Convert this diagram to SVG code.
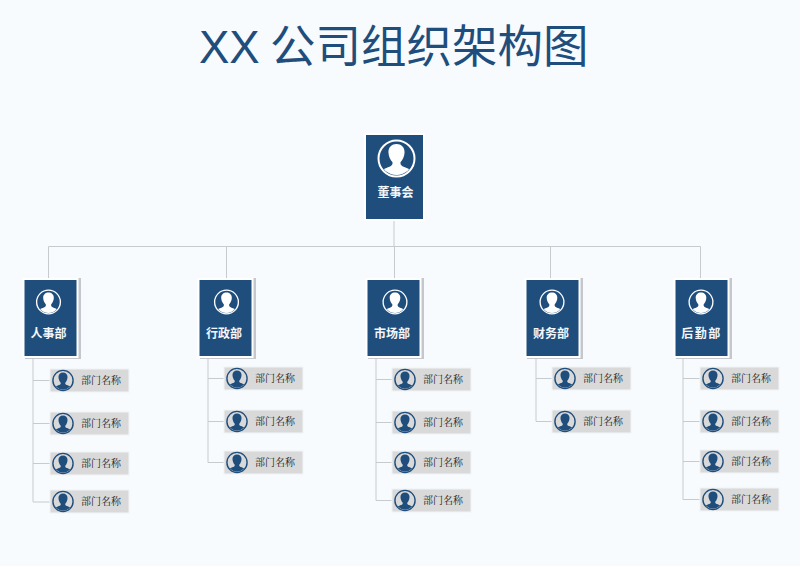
<svg xmlns="http://www.w3.org/2000/svg" width="800" height="566" viewBox="0 0 800 566">
<style>
.title{font-family:"Liberation Sans","Noto Sans CJK SC",sans-serif;font-size:45.500px;fill:#1f4e7d}
.lead{font-family:"Noto Sans CJK SC",sans-serif;font-size:12px;font-weight:700;fill:#f4f7fa;text-anchor:middle}
.sub{font-family:"Noto Serif CJK SC","Noto Sans CJK SC",serif;font-size:10px;fill:#222}
.card{fill:#1f4e7d;stroke:#fff;stroke-width:2}
.shade{fill:#c4c8cc}
.row{fill:#d9d9d9;stroke:#f2f4f6;stroke-width:1}
.conn{fill:none;stroke:#c8cbce;stroke-width:1}
</style>
<defs>
<path id="person" d="M-16 18V15C-15.500 10.500-11 10-7 8.200C-4.500 7-3.800 5.800-4 3.800C-6.300 1.500-7.800-2-8-5.500C-8.500-11-5-14.500 0-14.500C5-14.500 8.500-11 8-5.500C7.800-2 6.300 1.500 4 3.800C3.800 5.800 4.500 7 7 8.200C11 10 15.500 10.500 16 15V18Z"/>
<clipPath id="clip"><circle r="16.500"/></clipPath>
<g id="av-light"><circle r="18" fill="#1f4e7d" stroke="#fff" stroke-width="2"/><g clip-path="url(#clip)" fill="#fff"><use href="#person"/></g></g>
<g id="av-dark"><circle r="18" fill="#d9d9d9" stroke="#1f4e7d" stroke-width="2.500"/><g clip-path="url(#clip)" fill="#1f4e7d"><use href="#person"/></g></g>
<g id="rowitem"><rect class="row" x="0" y="0" width="79" height="23"/><use href="#av-dark" transform="translate(13 11.500) scale(.56)"/><text class="sub" x="31" y="15">部门名称</text></g>
<g id="deptcard"><rect class="shade" x="1.500" y="-1" width="56" height="81"/><rect class="card" x="0" y="0" width="54" height="78"/></g>
</defs>
<rect id="background" width="800" height="566" fill="#f7fbfe"/>
<text class="title" id="title" y="63"><tspan x="199">XX</tspan><tspan x="270">公司组织架构图</tspan></text>
<g id="connectors">
<path class="conn" d="M394 220V246M48.500 278V246.500H700.500V278M226.500 246.500V278M394.500 246.500V278M550.500 246.500V278"/>
<path class="conn" d="M33 358V502H50M33 380.500H50M33 423.500H50M33 463.500H50"/>
<path class="conn" d="M208 358V462.500H224M208 378.500H224M208 421.500H224"/>
<path class="conn" d="M376 358V500.500H392M376 379.500H392M376 422.500H392M376 462.500H392"/>
<path class="conn" d="M536 358V421.500H552M536 378.500H552"/>
<path class="conn" d="M683 358V499.500H700M683 378.500H700M683 421.500H700M683 461.500H700"/>
</g>
<g id="n-board"><rect class="card" x="365" y="134" width="59" height="86"/><use href="#av-light" transform="translate(396.500 158.500)"/><text class="lead" x="395.500" y="197">董事会</text></g>
<g id="n-hr"><use href="#deptcard" transform="translate(23.500 279)"/><use href="#av-light" transform="translate(48.500 302) scale(.66)"/><text class="lead" x="48.500" y="338">人事部</text></g>
<g id="n-admin"><use href="#deptcard" transform="translate(198.500 279)"/><use href="#av-light" transform="translate(226.500 302) scale(.66)"/><text class="lead" x="224" y="338">行政部</text></g>
<g id="n-market"><use href="#deptcard" transform="translate(366.500 279)"/><use href="#av-light" transform="translate(395 302) scale(.66)"/><text class="lead" x="392" y="338">市场部</text></g>
<g id="n-finance"><use href="#deptcard" transform="translate(525.500 279)"/><use href="#av-light" transform="translate(552 302) scale(.66)"/><text class="lead" x="551" y="338">财务部</text></g>
<g id="n-logistics"><use href="#deptcard" transform="translate(674.500 279)"/><use href="#av-light" transform="translate(701 302) scale(.66)"/><text class="lead" x="701.500" y="338" letter-spacing="1.500">后勤部</text></g>
<g id="n-hr-1"><use href="#rowitem" x="50" y="369"/></g>
<g id="n-hr-2"><use href="#rowitem" x="50" y="412"/></g>
<g id="n-hr-3"><use href="#rowitem" x="50" y="452"/></g>
<g id="n-hr-4"><use href="#rowitem" x="50" y="490"/></g>
<g id="n-admin-1"><use href="#rowitem" x="224" y="367"/></g>
<g id="n-admin-2"><use href="#rowitem" x="224" y="410"/></g>
<g id="n-admin-3"><use href="#rowitem" x="224" y="451"/></g>
<g id="n-market-1"><use href="#rowitem" x="392" y="368"/></g>
<g id="n-market-2"><use href="#rowitem" x="392" y="411"/></g>
<g id="n-market-3"><use href="#rowitem" x="392" y="451"/></g>
<g id="n-market-4"><use href="#rowitem" x="392" y="489"/></g>
<g id="n-finance-1"><use href="#rowitem" x="552" y="367"/></g>
<g id="n-finance-2"><use href="#rowitem" x="552" y="410"/></g>
<g id="n-logistics-1"><use href="#rowitem" x="700" y="367"/></g>
<g id="n-logistics-2"><use href="#rowitem" x="700" y="410"/></g>
<g id="n-logistics-3"><use href="#rowitem" x="700" y="450"/></g>
<g id="n-logistics-4"><use href="#rowitem" x="700" y="488"/></g>
</svg>
